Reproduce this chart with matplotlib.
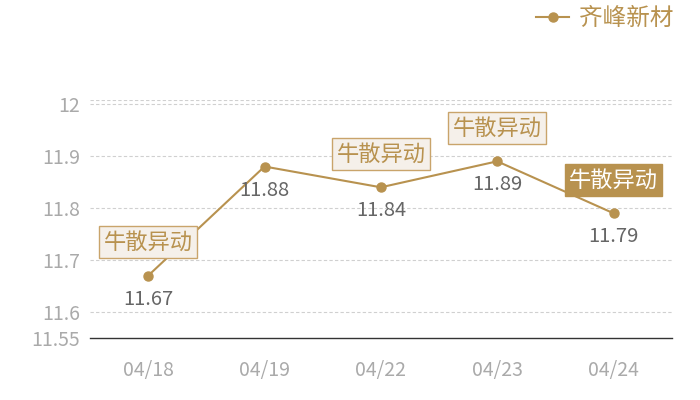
import matplotlib
matplotlib.use("Agg")
import matplotlib.pyplot as plt

plt.rcParams['font.family'] = ['Noto Sans CJK SC', 'DejaVu Sans']

dates = ["04/18", "04/19", "04/22", "04/23", "04/24"]
prices = [11.67, 11.88, 11.84, 11.89, 11.79]
series_name = "齐峰新材"
# which points carry a "牛散异动" tag, and whether it is highlighted
tag_text = "牛散异动"
tagged = [0, 2, 3, 4]
highlight = [4]

gold = "#B8924F"
yticks = [11.55, 11.6, 11.7, 11.8, 11.9, 12]
ytick_labels = ["11.55", "11.6", "11.7", "11.8", "11.9", "12"]

fig = plt.figure(figsize=(7, 4), dpi=100)
ax = fig.add_axes([0.1286, 0.155, 0.831, 0.595])

x = list(range(len(dates)))
line, = ax.plot(x, prices, color=gold, lw=1.5, marker="o", ms=6.5, label=series_name, zorder=3)

ax.set_xlim(-0.5, len(dates) - 0.5)
ax.set_ylim(11.55, 12.008)
ax.set_yticks(yticks)
ax.set_yticklabels(ytick_labels)
ax.set_xticks(x)
ax.set_xticklabels(dates)
ax.tick_params(length=0, colors="#aaaaaa", labelsize=14)
ax.tick_params(axis="x", pad=16)
ax.tick_params(axis="y", pad=7)

for v in yticks[1:]:
    ax.axhline(v, color="#d0d0d0", lw=0.8, ls=(0, (3, 2)), zorder=0)
ax.axhline(12.008, color="#d0d0d0", lw=0.8, ls=(0, (3, 2)), zorder=0)

for s in ["top", "right", "left"]:
    ax.spines[s].set_visible(False)
ax.spines["bottom"].set_color("#333333")
ax.spines["bottom"].set_linewidth(1)

for i, v in enumerate(prices):
    ax.annotate(f"{v:.2f}", (i, v), xytext=(0, -17), textcoords="offset points",
                ha="center", va="center", fontsize=14.5, color="#666666")

for i in tagged:
    if i in highlight:
        fc, ec, tc = gold, gold, "white"
    else:
        fc, ec, tc = "#F5F0EA", "#C9A46B", gold
    ax.annotate(tag_text, (i, prices[i]), xytext=(0, 24), textcoords="offset points",
                ha="center", va="center", fontsize=16, color=tc, zorder=4,
                bbox=dict(boxstyle="square,pad=0.2", fc=fc, ec=ec, lw=1))

leg = fig.legend(handles=[line], loc="upper right", bbox_to_anchor=(0.992, 1.035),
                 frameon=False, fontsize=17, handlelength=1.4, handletextpad=0.4)
for t in leg.get_texts():
    t.set_color(gold)

fig.savefig("out.png", dpi=100)
